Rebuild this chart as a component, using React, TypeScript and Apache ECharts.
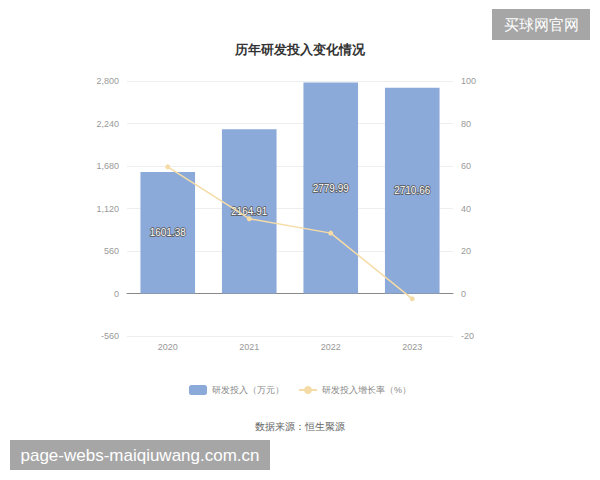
import React, { useEffect, useRef } from "react";
import * as echarts from "echarts";

const years = ["2020", "2021", "2022", "2023"];
const rdInvest = [1601.38, 2164.91, 2779.99, 2710.66];
const rdGrowth = [59.6, 35.19, 28.41, -2.49];

export default function App() {
  const ref = useRef<HTMLDivElement>(null);
  useEffect(() => {
    const chart = echarts.init(ref.current!, undefined, { renderer: "svg" });
    chart.setOption({
      animation: false,
      backgroundColor: "#fff",
      title: {
        text: "历年研发投入变化情况",
        left: "center",
        top: 38,
        textStyle: { fontSize: 13, fontWeight: "bold", color: "#333" },
      },
      grid: { left: 127, right: 147, top: 81, bottom: 144 },
      legend: {
        bottom: 80,
        left: "center",
        itemWidth: 18,
        itemHeight: 10,
        itemGap: 14,
        textStyle: { fontSize: 9, color: "#888" },
        data: [
          { name: "研发投入（万元）", icon: "roundRect" },
          { name: "研发投入增长率（%）" },
        ],
      },
      xAxis: [
        {
          type: "category",
          data: years,
          axisLine: { onZero: true, lineStyle: { color: "#888" } },
          axisTick: { alignWithLabel: true, lineStyle: { color: "#888" } },
          axisLabel: { show: false },
        },
        {
          type: "category",
          data: years,
          position: "bottom",
          axisLine: { show: false, onZero: false },
          axisTick: { show: false },
          axisLabel: { color: "#999", fontSize: 9, margin: 6 },
        },
      ],
      yAxis: [
        {
          type: "value",
          min: -560,
          max: 2800,
          interval: 560,
          axisLine: { show: false },
          axisTick: { show: false },
          axisLabel: {
            color: "#999",
            fontSize: 9,
            formatter: (v: number) => v.toLocaleString("en-US"),
          },
          splitLine: { lineStyle: { color: "#eee" } },
        },
        {
          type: "value",
          min: -20,
          max: 100,
          interval: 20,
          axisLine: { show: false },
          axisTick: { show: false },
          axisLabel: { color: "#999", fontSize: 9 },
          splitLine: { show: false },
        },
      ],
      series: [
        {
          name: "研发投入（万元）",
          type: "bar",
          data: rdInvest,
          barWidth: "67%",
          itemStyle: { color: "#8caad9" },
          label: {
            show: true,
            position: "inside",
            color: "#fff",
            fontSize: 10,
            textBorderColor: "#555",
            textBorderWidth: 1.5,
          },
        },
        {
          name: "研发投入增长率（%）",
          type: "line",
          yAxisIndex: 1,
          data: rdGrowth,
          symbol: "circle",
          symbolSize: 5,
          lineStyle: { color: "#f5dba6", width: 1.5 },
          itemStyle: { color: "#f5dba6" },
        },
      ],
      graphic: [
        {
          type: "text",
          left: "center",
          top: 421,
          style: { text: "数据来源：恒生聚源", fontSize: 10, fill: "#666" },
        },
        {
          type: "group",
          left: 492,
          top: 9,
          children: [
            { type: "rect", shape: { x: 0, y: 0, width: 98, height: 31 }, style: { fill: "#a6a6a6" } },
            {
              type: "text",
              x: 49,
              y: 15.5,
              style: { text: "买球网官网", fontSize: 15, fill: "#fff", align: "center", verticalAlign: "middle" },
            },
          ],
        },
        {
          type: "group",
          left: 10,
          top: 440,
          children: [
            { type: "rect", shape: { x: 0, y: 0, width: 260, height: 30 }, style: { fill: "#a6a6a6" } },
            {
              type: "text",
              x: 130,
              y: 15,
              style: {
                text: "page-webs-maiqiuwang.com.cn",
                fontSize: 17,
                fill: "#fff",
                align: "center",
                verticalAlign: "middle",
              },
            },
          ],
        },
      ],
    });
    return () => chart.dispose();
  }, []);
  return <div ref={ref} style={{ width: 600, height: 480, margin: -8 }} />;
}
